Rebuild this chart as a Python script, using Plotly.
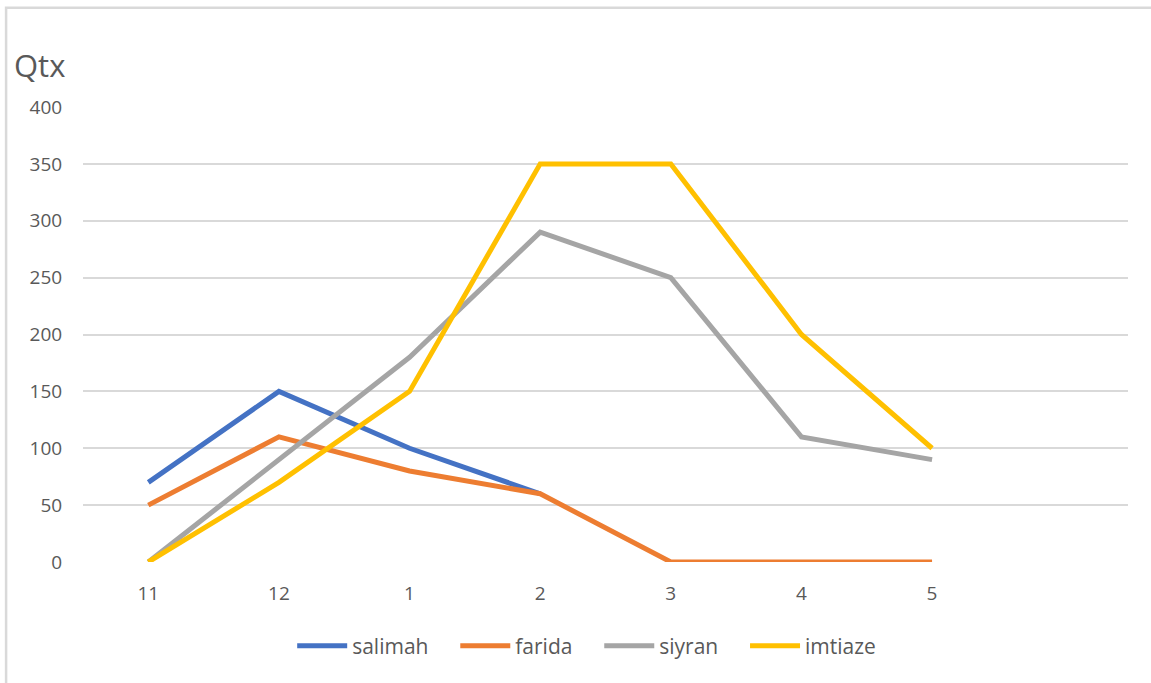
import plotly.graph_objects as go

months = ["11", "12", "1", "2", "3", "4", "5"]
salimah = [70, 150, 100, 60, None, None, None]
farida = [50, 110, 80, 60, 0, 0, 0]
siyran = [0, 90, 180, 290, 250, 110, 90]
imtiaze = [0, 70, 150, 350, 350, 200, 100]
y_ticks = [0, 50, 100, 150, 200, 250, 300, 350, 400]

series = [("salimah", salimah, "#4472C4"),
          ("farida", farida, "#ED7D31"),
          ("siyran", siyran, "#A5A5A5"),
          ("imtiaze", imtiaze, "#FFC000")]

xpos = list(range(len(months)))
fig = go.Figure()
for i, (name, vals, col) in enumerate(series):
    pad = "\u00a0" * 4 if i < len(series) - 1 else ""
    fig.add_trace(go.Scatter(x=xpos, y=vals, name=name + pad, mode="lines",
                             line=dict(color=col, width=5), connectgaps=False))

font_family = "Open Sans, Liberation Sans, sans-serif"
fig.update_layout(
    width=1151, height=683,
    margin=dict(l=83, r=23, t=107, b=121),
    paper_bgcolor="white", plot_bgcolor="white",
    font=dict(family=font_family, color="#595959", size=19),
    showlegend=True,
    legend=dict(orientation="h", x=0.482, xanchor="center", y=-0.14, yanchor="top",
                font=dict(size=21, color="#595959"), itemwidth=50,
                tracegroupgap=0),
    xaxis=dict(range=[-0.5, 7.5], tickvals=xpos, ticktext=months,
               showgrid=False, zeroline=False, showline=False,
               ticks="outside", ticklen=14, tickcolor="rgba(0,0,0,0)",
               tickfont=dict(size=19, color="#595959")),
    yaxis=dict(range=[0, 400], tickvals=y_ticks, showgrid=True,
               gridcolor="#D9D9D9", gridwidth=1.5, zeroline=False,
               showline=False, ticks="outside", ticklen=16, tickcolor="rgba(0,0,0,0)",
               tickfont=dict(size=19, color="#595959")),
    annotations=[dict(text="Qtx", xref="paper", yref="paper", x=-0.068, y=1.092,
                      xanchor="left", yanchor="middle", showarrow=False,
                      font=dict(size=31, color="#595959"))],
    shapes=[dict(type="rect", xref="paper", yref="paper",
                 x0=-0.0736, x1=1.1, y0=-0.5, y1=1.218,
                 line=dict(color="#D9D9D9", width=2.5), layer="below")],
)
fig.write_html("out.html")
